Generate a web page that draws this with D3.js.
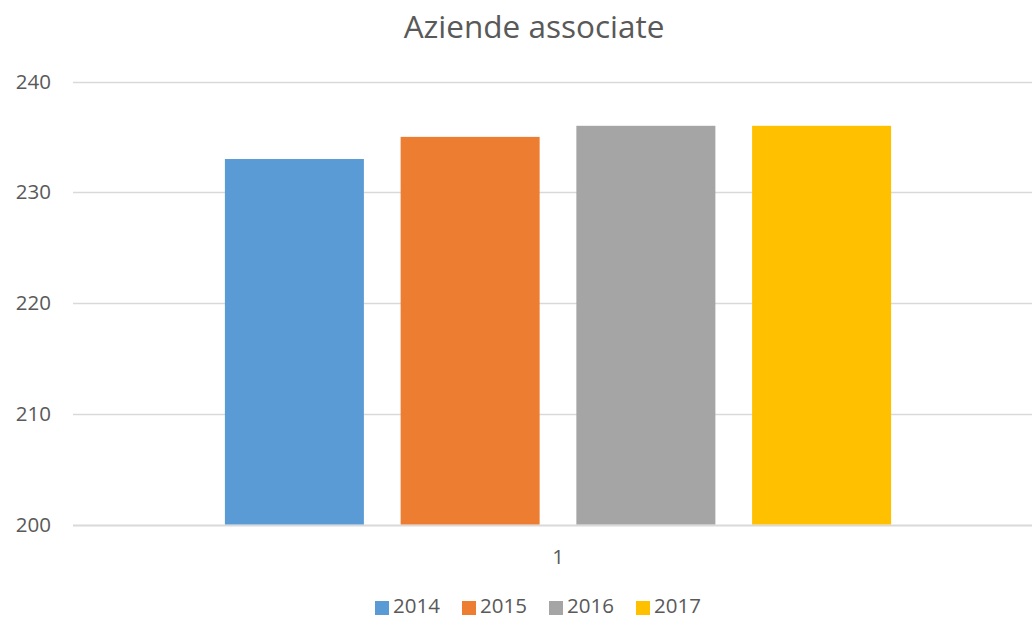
<!DOCTYPE html>
<html><head><meta charset="utf-8">
<script src="https://cdn.jsdelivr.net/npm/d3@7"></script>
<style>body{margin:0;background:#fff}svg{display:block;font-family:"Open Sans",sans-serif}</style>
</head><body><svg id="c" width="1032" height="618"></svg>
<script>
const title = "Aziende associate";
const categories = ["1"];
const seriesNames = ["2014","2015","2016","2017"];
const values2014 = [233];
const values2015 = [235];
const values2016 = [236];
const values2017 = [236];
const yTicks = [200,210,220,230,240];
const colors = ["#5b9bd5","#ed7d31","#a5a5a5","#ffc000"];

const seriesValues = [values2014, values2015, values2016, values2017];
const svg = d3.select("#c");
const textColor = "#595959";

const y = d3.scaleLinear().domain([200,240]).range([524.5,81.5]);
const x0 = d3.scaleBand().domain(categories).range([73,1043]).paddingInner(0).paddingOuter(0.228);
const x1 = d3.scaleBand().domain(seriesNames).range([0,x0.bandwidth()]).paddingInner(0.209).paddingOuter(0);

// gridlines
svg.append("g").selectAll("line").data(yTicks).join("line")
  .attr("x1",73).attr("x2",1032)
  .attr("y1",d=>Math.round(y(d))+0.5).attr("y2",d=>Math.round(y(d))+0.5)
  .attr("stroke","#d9d9d9").attr("stroke-width",d=>d===200?2:1.5);

// y labels
svg.append("g").selectAll("text").data(yTicks).join("text")
  .attr("x",51).attr("y",d=>y(d)).attr("dy","0.35em")
  .attr("text-anchor","end").attr("fill",textColor).attr("font-size",20.5)
  .text(d=>d);

// bars
categories.forEach((cat,ci)=>{
  svg.append("g").selectAll("rect").data(seriesNames).join("rect")
    .attr("x",s=>x0(cat)+x1(s))
    .attr("width",x1.bandwidth())
    .attr("y",(s,i)=>y(seriesValues[i][ci]))
    .attr("height",(s,i)=>y(200)-y(seriesValues[i][ci]))
    .attr("fill",(s,i)=>colors[i]);
});

// x labels
svg.append("g").selectAll("text").data(categories).join("text")
  .attr("x",c=>x0(c)+x0.bandwidth()/2).attr("y",557).attr("dy","0.35em")
  .attr("text-anchor","middle").attr("fill",textColor).attr("font-size",20.5)
  .text(c=>c);

// title
svg.append("text").attr("x",534).attr("y",27).attr("dy","0.35em")
  .attr("text-anchor","middle").attr("fill",textColor).attr("font-size",31.5)
  .text(title);

// legend
const lg = svg.append("g").selectAll("g").data(seriesNames).join("g")
  .attr("transform",(d,i)=>`translate(${375+i*87},0)`);
lg.append("rect").attr("x",0).attr("y",601).attr("width",14).attr("height",14)
  .attr("fill",(d,i)=>colors[i]);
lg.append("text").attr("x",18).attr("y",605.5).attr("dy","0.35em")
  .attr("fill",textColor).attr("font-size",20.5).text(d=>d);
</script></body></html>
